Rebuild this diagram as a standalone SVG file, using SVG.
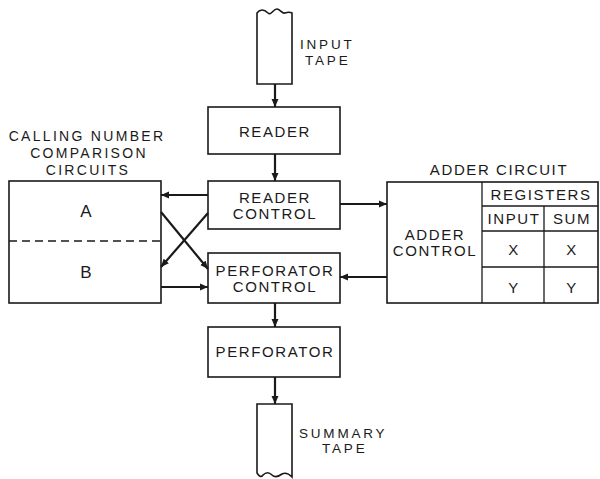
<svg xmlns="http://www.w3.org/2000/svg" width="600" height="479" viewBox="0 0 600 479">
<style>
.box{fill:none;stroke:#1a1a1a;stroke-width:1.6}
.ln{fill:none;stroke:#1a1a1a;stroke-width:1.3}
.arr{fill:none;stroke:#1a1a1a;stroke-width:2.2;marker-end:url(#ah)}
text{font-family:"Liberation Sans",Arial,sans-serif;fill:#1a1a1a;font-size:15px;letter-spacing:1.6px;text-anchor:middle}
.side{font-size:13.5px;letter-spacing:2.8px;text-anchor:start}
.cap{font-size:14px;letter-spacing:2.3px}
.big{font-size:17px;letter-spacing:0}
</style>
<defs>
<marker id="ah" markerUnits="userSpaceOnUse" markerWidth="9" markerHeight="8" refX="8" refY="4" orient="auto">
<path d="M0,0.5 L8,4 L0,7.5 z" fill="#1a1a1a"/>
</marker>
</defs>
<rect width="600" height="479" fill="#fff"/>

<g id="input-tape">
<path class="box" d="M257,84 L257,13 C260,9 264,9 268,13 C271,16 273,9 277,9 C280,9 282,14 285,13 C288,12 290,12 292,13 L292,84 Z"/>
<text class="side" x="300" y="49">INPUT</text>
<text class="side" x="305" y="65">TAPE</text>
</g>

<g id="reader">
<rect class="box" x="208" y="107" width="132" height="47"/>
<text x="275" y="137">READER</text>
</g>

<g id="reader-control">
<rect class="box" x="208" y="181" width="132" height="48"/>
<text x="275" y="203">READER</text>
<text x="275" y="219">CONTROL</text>
</g>

<g id="perforator-control">
<rect class="box" x="208" y="253" width="132" height="50"/>
<text x="275" y="276">PERFORATOR</text>
<text x="275" y="292">CONTROL</text>
</g>

<g id="perforator">
<rect class="box" x="208" y="327" width="132" height="50"/>
<text x="275" y="357">PERFORATOR</text>
</g>

<g id="summary-tape">
<path class="box" d="M257,404 L292,404 L292,477 C289,474 286,472 282,474 C278,477 275,478 272,475 C269,472 266,472 263,475 C261,478 259,476 257,473 Z"/>
<text class="side" x="299" y="438">SUMMARY</text>
<text class="side" x="322" y="453">TAPE</text>
</g>

<g id="comparison-circuits">
<text class="cap" x="87" y="141">CALLING NUMBER</text>
<text class="cap" x="89" y="158">COMPARISON</text>
<text class="cap" x="88" y="175">CIRCUITS</text>
<rect class="box" x="9" y="181" width="152" height="122"/>
<line class="ln" x1="9" y1="241" x2="161" y2="241" stroke-dasharray="8,5"/>
<text class="big" x="86" y="217">A</text>
<text class="big" x="86" y="278">B</text>
</g>

<g id="adder-circuit">
<text x="499" y="175">ADDER CIRCUIT</text>
<rect class="box" x="387" y="182" width="211" height="121"/>
<line class="ln" x1="482" y1="182" x2="482" y2="303"/>
<line class="ln" x1="482" y1="206" x2="598" y2="206"/>
<line class="ln" x1="544" y1="206" x2="544" y2="303"/>
<line class="ln" x1="482" y1="231" x2="598" y2="231"/>
<line class="ln" x1="482" y1="267" x2="598" y2="267"/>
<text x="435" y="240">ADDER</text>
<text x="435" y="256">CONTROL</text>
<text x="541" y="200">REGISTERS</text>
<text x="514" y="224">INPUT</text>
<text x="572" y="224">SUM</text>
<text x="514" y="255">X</text>
<text x="572" y="255">X</text>
<text x="514" y="293">Y</text>
<text x="572" y="293">Y</text>
</g>

<g id="connectors">
<line class="arr" x1="275" y1="84" x2="275" y2="107"/>
<line class="arr" x1="275" y1="154" x2="275" y2="181"/>
<line class="arr" x1="208" y1="195" x2="161" y2="195"/>
<line class="arr" x1="161" y1="287" x2="208" y2="287"/>
<line class="arr" x1="161" y1="212" x2="208" y2="269"/>
<line class="arr" x1="208" y1="213" x2="161" y2="267"/>
<line class="arr" x1="340" y1="204" x2="387" y2="204"/>
<line class="arr" x1="387" y1="277" x2="340" y2="277"/>
<line class="arr" x1="275" y1="303" x2="275" y2="327"/>
<line class="arr" x1="275" y1="377" x2="275" y2="404"/>
</g>
</svg>
